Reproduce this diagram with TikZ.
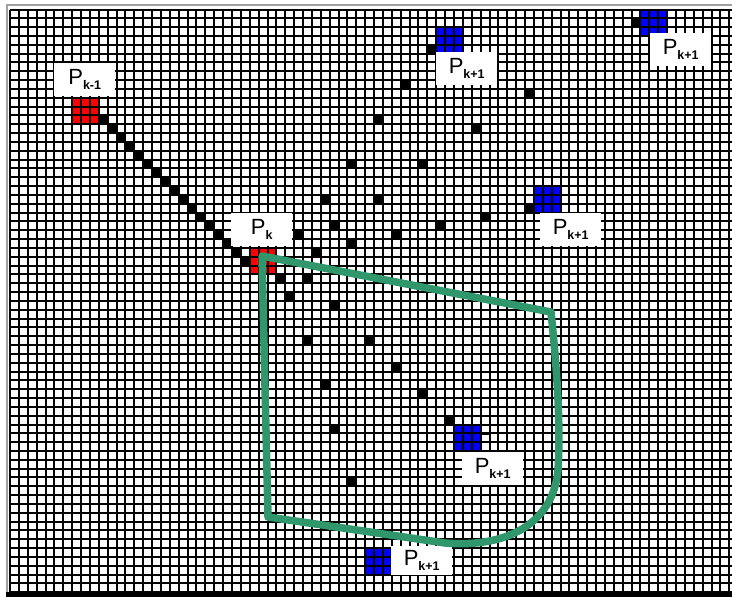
\documentclass[tikz,border=0pt]{standalone}
\usepackage{fontspec}
\setmainfont{Liberation Sans}
\definecolor{cellblue}{RGB}{0,0,255}
\definecolor{cellred}{RGB}{255,0,0}
\definecolor{zone}{RGB}{48,150,108}
\definecolor{framegray}{RGB}{160,160,160}
\newcommand\ptag[1]{{\fontsize{22pt}{22pt}\selectfont P}\raisebox{-5pt}{\fontsize{12.5pt}{12.5pt}\selectfont\bfseries #1}}
\begin{document}
\begin{tikzpicture}[x=1pt,y=-1pt,
  gridline/.style={line width=2pt, black},
  tag/.style={fill=white, inner sep=0pt, minimum width=61pt, minimum height=33pt, anchor=north west},
  zoneline/.style={draw=zone, line width=7.5pt, line join=round}]
\useasboundingbox (0,0) rectangle (732,597);
\fill[white] (0,0) rectangle (732,597);
% cell grid: one unit = one cell
\begin{scope}[shift={(10,9.5)}, x=8.88pt, y=-8.83pt]
  % candidate blocks
  \fill[cellred] (7,10) rectangle ++(3,3);
  \fill[cellred] (27,27) rectangle ++(3,3);
  \fill[cellblue] (48,2) rectangle ++(3,3);
  \fill[cellblue] (71,0) rectangle ++(3,3);
  \fill[cellblue] (59,20) rectangle ++(3,3);
  \fill[cellblue] (50,47) rectangle ++(3,3);
  \fill[cellblue] (40,61) rectangle ++(3,3);
  % motion trail from P_{k-1} to P_k
  \foreach \i in {0,...,16} \fill[black] (10+\i,12+\i) rectangle ++(1,1);
  % visited search points
  \foreach \c/\r in {47/4, 70/1, 44/8, 58/9, 41/12, 52/13, 38/17, 46/17,
                     35/21, 41/21, 58/22, 53/23, 48/24, 43/25, 36/24, 32/25,
                     38/26, 34/27, 30/30, 33/30, 31/32, 36/33, 33/37, 40/37,
                     43/40, 35/42, 46/43, 49/46, 36/47, 38/53}
    \fill[black] (\c,\r) rectangle ++(1,1);
  % grid lines
  \foreach \c in {0,...,81} \draw[gridline] (\c,0) -- (\c,66);
  \foreach \r in {0,...,66} \draw[gridline] (0,\r) -- (82,\r);
  \draw[line width=3pt] (53,48) -- (54,48);
\end{scope}
% window frame
\draw[framegray, line width=1.5pt] (7,592) -- (7,5) -- (732,5);
\fill[black] (6,592) rectangle (732,597);
% labels
\node[tag] (pprev) at (54,63) {\ptag{k-1}};
\node[tag] (pcur) at (231,213) {\ptag{k}};
\node[tag] (pnA) at (436,52) {\ptag{k+1}};
\node[tag] (pnB) at (650,33) {\ptag{k+1}};
\node[tag] (pnC) at (540,213) {\ptag{k+1}};
\node[tag] (pnD) at (462,452) {\ptag{k+1}};
\node[tag, minimum height=29pt] (pnE) at (391,546) {\ptag{k+1}};
% search region
\draw[zoneline] (262,256) -- (551,312)
  .. controls (556,360) and (561,420) .. (558,470)
  .. controls (553,525) and (505,548) .. (445,543)
  -- (268,517) -- cycle;
\end{tikzpicture}
\end{document}
